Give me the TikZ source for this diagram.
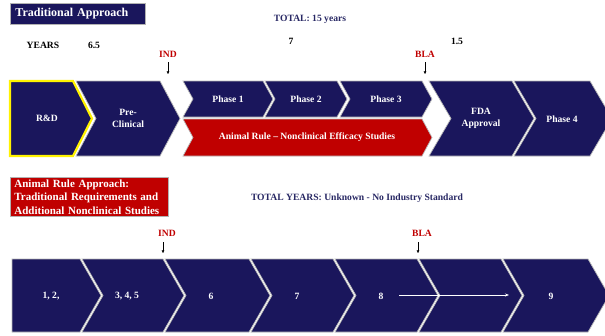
\documentclass[tikz,border=0pt]{standalone}
\usepackage{fontspec}
\setmainfont{Liberation Serif}
\usetikzlibrary{arrows.meta}
\definecolor{navy}{RGB}{26,22,92}
\definecolor{arred}{RGB}{192,0,0}
\definecolor{ttl}{RGB}{40,40,100}
\newcommand\chevpath[5]{(#1,#3) -- (#2,#3) -- ({#2+#5},{(#3+#4)/2}) -- (#2,#4) -- (#1,#4) -- ({#1+#5},{(#3+#4)/2}) -- cycle}
\newcommand\pentpath[5]{(#1,#3) -- (#2,#3) -- ({#2+#5},{(#3+#4)/2}) -- (#2,#4) -- (#1,#4) -- cycle}
\tikzset{
  chev/.style={fill=navy, draw=gray!55, line width=0.7pt, line join=miter},
  redchev/.style={fill=arred, draw=gray!55, line width=0.7pt},
  lbl/.style={text=white, font=\bfseries\fontsize{9.6}{12}\selectfont, align=center, inner sep=0pt},
  yr/.style={font=\bfseries\fontsize{9.6}{11}\selectfont, inner sep=0pt},
  milestone/.style={text=arred, font=\bfseries\fontsize{9.6}{11}\selectfont, inner sep=0pt},
  tick/.style={-{Triangle[length=2.6pt,width=2.6pt]}, line width=0.45pt},
}
\begin{document}
\begin{tikzpicture}[x=1pt,y=-1pt]
\useasboundingbox (0,0) rectangle (605,335);
\clip (0,0) rectangle (605,335);
% ---------- top header ----------
\node[draw=gray!60, line width=0.8pt, fill=navy, text=white, font=\bfseries\fontsize{12}{14}\selectfont,
      minimum width=135pt, minimum height=21pt, anchor=north west, inner xsep=5pt, text width=125pt, align=left] (trad) at (10,3) {Traditional Approach};
\node[yr, text=ttl] (total1) at (310,19) {TOTAL: 15 years};
\node[yr] (years) at (43,45) {YEARS};
\node[yr] (y65) at (94,45) {6.5};
\node[yr] (y7) at (291,41) {7};
\node[yr] (y15) at (457,41) {1.5};
\node[milestone] (ind1) at (168,54) {IND};
\node[milestone] (bla1) at (425,54) {BLA};
\coordinate (ind1s) at (168,62);
\coordinate (ind1t) at (168,74);
\coordinate (bla1s) at (425,62);
\coordinate (bla1t) at (425,74);
\draw[tick] (ind1s) -- (ind1t);
\draw[tick] (bla1s) -- (bla1t);
% ---------- top row ----------
\fill[navy] \pentpath{10}{73}{81}{156}{19};
\draw[yellow, line width=2.2pt, line join=miter] \pentpath{10}{73}{81}{156}{19};
\node[lbl] (rd) at (47,118) {R\&D};
\draw[chev] \chevpath{76}{160}{81}{156}{20};
\node[lbl] (pre) at (128,118) {Pre-\\Clinical};
\draw[chev] \chevpath{183}{263}{81}{117}{10};
\node[lbl] (p1) at (228,99) {Phase 1};
\draw[chev] \chevpath{265}{337}{81}{117}{10};
\node[lbl] (p2) at (306,99) {Phase 2};
\draw[chev] \chevpath{340}{422}{81}{117}{10};
\node[lbl] (p3) at (386,99) {Phase 3};
\draw[redchev] \chevpath{183}{422}{119}{156}{10};
\node[lbl] (ar) at (307,137) {Animal Rule -- Nonclinical Efficacy Studies};
\draw[chev] \chevpath{429}{512}{81}{156}{22};
\node[lbl] (fda) at (481,118) {FDA\\Approval};
\draw[chev] \chevpath{514}{590}{81}{156}{22};
\node[lbl] (p4) at (562,119) {Phase 4};
% ---------- bottom header ----------
\node[draw=gray!60, line width=0.8pt, fill=arred, text=white, font=\bfseries\fontsize{11}{13.5}\selectfont,
      anchor=north west, inner xsep=4pt, inner ysep=2pt, text width=150pt, align=left] (arbox) at (10,177)
      {Animal Rule Approach:\\Traditional Requirements and\\Additional Nonclinical Studies};
\node[yr, text=ttl] (total2) at (357,198) {TOTAL YEARS: Unknown - No Industry Standard};
\node[milestone] (ind2) at (167,233) {IND};
\node[milestone] (bla2) at (422,233) {BLA};
\coordinate (ind2s) at (163,242);
\coordinate (ind2t) at (163,253);
\coordinate (bla2s) at (418,242);
\coordinate (bla2t) at (418,253);
\draw[tick] (ind2s) -- (ind2t);
\draw[tick] (bla2s) -- (bla2t);
% ---------- bottom row ----------
\draw[chev] \pentpath{12}{80}{259}{332}{21};
\node[lbl] (b1) at (51,296) {1, 2,};
\draw[chev] \chevpath{82}{163}{259}{332}{21};
\node[lbl] (b2) at (127,296) {3, 4, 5};
\draw[chev] \chevpath{165}{249}{259}{332}{21};
\node[lbl] (b3) at (211,296) {6};
\draw[chev] \chevpath{251}{333}{259}{332}{21};
\node[lbl] (b4) at (297,296) {7};
\draw[chev] \chevpath{335}{417}{259}{332}{21};
\node[lbl] (b5) at (381,296) {8};
\draw[chev] \chevpath{419}{501}{259}{332}{21};
\draw[chev] \chevpath{503}{588}{259}{332}{21};
\node[lbl] (b7) at (551,296) {9};
\coordinate (arrs) at (399,295);
\coordinate (arre) at (509,295);
\draw[white, line width=0.8pt, -{Stealth[length=4pt,width=3pt]}] (arrs) -- (arre);
\end{tikzpicture}
\end{document}
